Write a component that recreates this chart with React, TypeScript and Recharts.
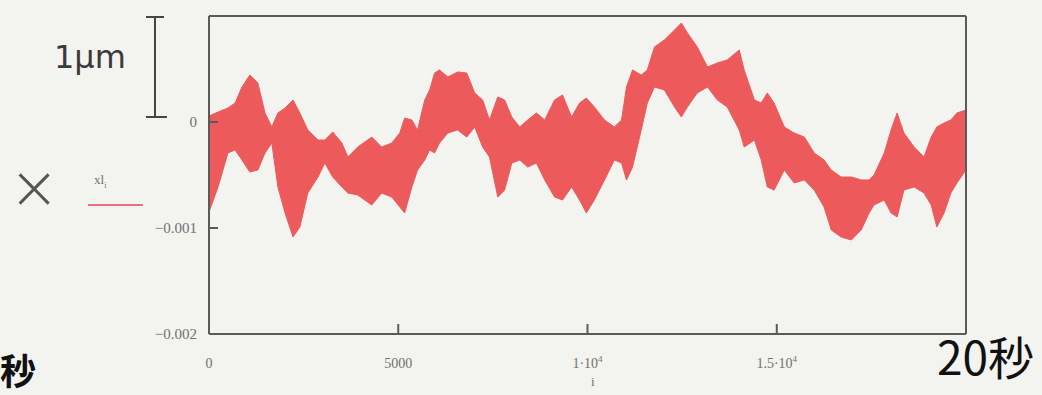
import React from 'react';
import { ComposedChart, Area, XAxis, YAxis } from 'recharts';

// sample index i (0..20000) and band envelope of xl_i, in units of 1e-4
const sampleIdx = [
  0, 240, 500, 690, 870, 1080, 1290, 1480, 1660, 1820, 2010, 2220, 2400, 2610, 2880,
  3060, 3270, 3510, 3670, 3930, 4300, 4560, 4830, 5040, 5170, 5360, 5510, 5700, 5830,
  5960, 6090, 6310, 6570, 6810, 7020, 7230, 7410, 7630, 7810, 8000, 8210, 8420, 8650,
  8870, 9130, 9340, 9580, 9790, 9970, 10180, 10450, 10710, 10900, 11030, 11190, 11420,
  11580, 11770, 12030, 12300, 12480, 12640, 12900, 13170, 13430, 13690, 14010, 14140,
  14410, 14590, 14750, 14930, 15200, 15460, 15730, 15990, 16250, 16440, 16700, 16970,
  17230, 17440, 17570, 17840, 18020, 18180, 18360, 18630, 18890, 19080, 19230, 19420,
  19600, 19760, 20000,
];

const upper = [
  0.57, 0.94, 1.32, 1.79, 3.3, 4.43, 3.68, 0.85, -0.47, 0.85, 1.32, 2.08, 0.85, -0.75, -1.7,
  -1.7, -0.94, -1.98, -3.3, -2.36, -1.42, -2.36, -1.98, -1.04, 0.38, 0.19, -0.75, 2.08, 3.02,
  4.62, 4.91, 4.25, 4.72, 4.62, 2.74, 2.08, 0.19, 2.36, 2.08, 0.47, -0.47, 0.19, 0.85,
  0.19, 2.08, 2.55, 0.47, 1.79, 2.26, 1.42, 0.19, -0.47, 0.19, 3.3, 4.91, 4.43,
  4.91, 7.08, 7.74, 8.68, 9.34, 8.4, 7.08, 5.19, 5.57, 5.85, 6.79, 4.91,
  2.08, 1.79, 2.74, 1.79, -0.47, -1.04, -1.42, -2.92, -3.58, -4.53, -5.19, -5.19,
  -5.47, -5.47, -5.0, -2.92, -0.75, 0.85, -1.04, -2.36, -3.3, -1.42, -0.47, -0.09,
  0.19, 0.85, 1.13,
];

const lower = [
  -8.49, -6.13, -2.92, -2.64, -3.58, -4.72, -4.53, -2.92, -1.98, -6.13, -8.58, -10.85, -9.91, -6.7, -5.19,
  -3.87, -5.19, -6.13, -6.7, -6.89, -7.83, -6.7, -7.08, -8.02, -8.58, -6.13, -4.53, -3.58, -2.64,
  -2.92, -1.98, -1.04, -0.75, -1.42, -0.47, -2.36, -3.3, -7.08, -6.42, -3.87, -3.58, -4.25, -3.87,
  -5.47, -7.08, -7.36, -6.13, -7.36, -8.58, -7.36, -5.47, -3.58, -3.87, -5.47, -4.25, -0.75,
  1.79, 3.3, 3.02, 1.42, 0.47, 1.42, 2.74, 3.3, 2.08, 1.42, -0.75, -2.36,
  -1.7, -3.58, -6.13, -6.42, -4.53, -5.75, -5.47, -6.42, -8.02, -10.19, -10.85, -11.13,
  -10.19, -8.58, -7.83, -7.36, -8.58, -8.96, -6.42, -6.13, -6.7, -7.83, -9.91, -8.58,
  -6.7, -5.75, -4.53,
];

const xTicks = [0, 5000, 10000, 15000];
const yTicks = [0, -0.001, -0.002];

const data = sampleIdx.map((i, k) => ({
  i,
  band: [lower[k] * 1e-4, upper[k] * 1e-4],
}));

const BG = '#f3f3ef';
const FRAME = '#5a5a5a';
const BAND = '#ed5a5c';
const LABEL = '#707070';
const serif = '"Liberation Serif", "DejaVu Serif", serif';

const XTick = (props: any) => {
  const { x, y, payload } = props;
  const v = payload.value as number;
  let body: React.ReactNode = String(v);
  if (v === 10000) body = (<>1·10<tspan dy={-6} fontSize={9}>4</tspan></>);
  if (v === 15000) body = (<>1.5·10<tspan dy={-6} fontSize={9}>4</tspan></>);
  return (
    <text x={x} y={y} textAnchor="middle" fontFamily={serif} fontSize={14} fill={LABEL}>
      {body}
    </text>
  );
};

const YTick = (props: any) => {
  const { x, y, payload } = props;
  const v = payload.value as number;
  const s = v === 0 ? '0' : '\u2212' + Math.abs(v).toFixed(3);
  return (
    <text x={x} y={y + 5} textAnchor="end" fontFamily={serif} fontSize={15} fill={LABEL}>
      {s}
    </text>
  );
};

const axisLine = { stroke: FRAME, strokeWidth: 2 };

export default function App() {
  return (
    <div style={{ position: 'absolute', left: 0, top: 0, width: 1042, height: 395, background: BG, overflow: 'hidden' }}>
      <ComposedChart width={1042} height={395} data={data} margin={{ top: 6, right: 46, bottom: 31, left: 179 }}>
        <XAxis
          xAxisId="b" dataKey="i" type="number" domain={[0, 20000]} ticks={xTicks} height={30}
          axisLine={axisLine} tickLine={axisLine} tickSize={-10} tickMargin={44} tick={<XTick />}
        />
        <XAxis
          xAxisId="t" dataKey="i" type="number" orientation="top" domain={[0, 20000]} ticks={xTicks} height={10}
          axisLine={axisLine} tickLine={axisLine} tickSize={-9} tick={false}
        />
        <YAxis
          yAxisId="l" type="number" domain={[-0.002, 0.001]} ticks={yTicks} width={30}
          axisLine={axisLine} tickLine={axisLine} tickSize={-9} tickMargin={21} tick={<YTick />}
        />
        <YAxis
          yAxisId="r" orientation="right" type="number" domain={[-0.002, 0.001]} ticks={yTicks} width={30}
          axisLine={axisLine} tickLine={axisLine} tickSize={-9} tick={false}
        />
        <Area
          xAxisId="b" yAxisId="l" dataKey="band" type="linear"
          stroke={BAND} strokeWidth={1} fill={BAND} fillOpacity={1} isAnimationActive={false}
        />
      </ComposedChart>

      {/* legend entry for xl_i */}
      <div style={{ position: 'absolute', left: 94, top: 172, fontFamily: serif, fontSize: 13, color: LABEL }}>
        xl<sub style={{ fontSize: 8 }}>i</sub>
      </div>
      <div style={{ position: 'absolute', left: 88, top: 204, width: 55, height: 2, background: '#ee6d7c' }} />

      {/* scale bar: 1 μm */}
      <div style={{ position: 'absolute', left: 54, top: 38, fontFamily: '"DejaVu Sans", sans-serif', fontSize: 32, color: '#3a3a3a' }}>
        1μm
      </div>
      <svg style={{ position: 'absolute', left: 0, top: 0 }} width={1042} height={395}>
        <g stroke="#444" strokeWidth={2}>
          <line x1={155} y1={17} x2={155} y2={117} />
          <line x1={146} y1={17} x2={164} y2={17} />
          <line x1={146} y1={117} x2={167} y2={117} />
        </g>
      </svg>
      <div style={{ position: 'absolute', left: 9, top: 152, fontFamily: '"DejaVu Sans", sans-serif', fontWeight: 200, fontSize: 60, color: '#555' }}>
        ×
      </div>
      <div style={{ position: 'absolute', left: 591, top: 374, fontFamily: serif, fontSize: 13, color: LABEL }}>i</div>
      <div style={{ position: 'absolute', left: 0, top: 343, fontFamily: '"Noto Sans CJK JP", sans-serif', fontWeight: 700, fontSize: 36, color: '#111' }}>
        秒
      </div>
      <div style={{ position: 'absolute', left: 937, top: 322, fontFamily: '"Noto Sans CJK JP", sans-serif', fontSize: 46, color: '#111' }}>
        20秒
      </div>
    </div>
  );
}
